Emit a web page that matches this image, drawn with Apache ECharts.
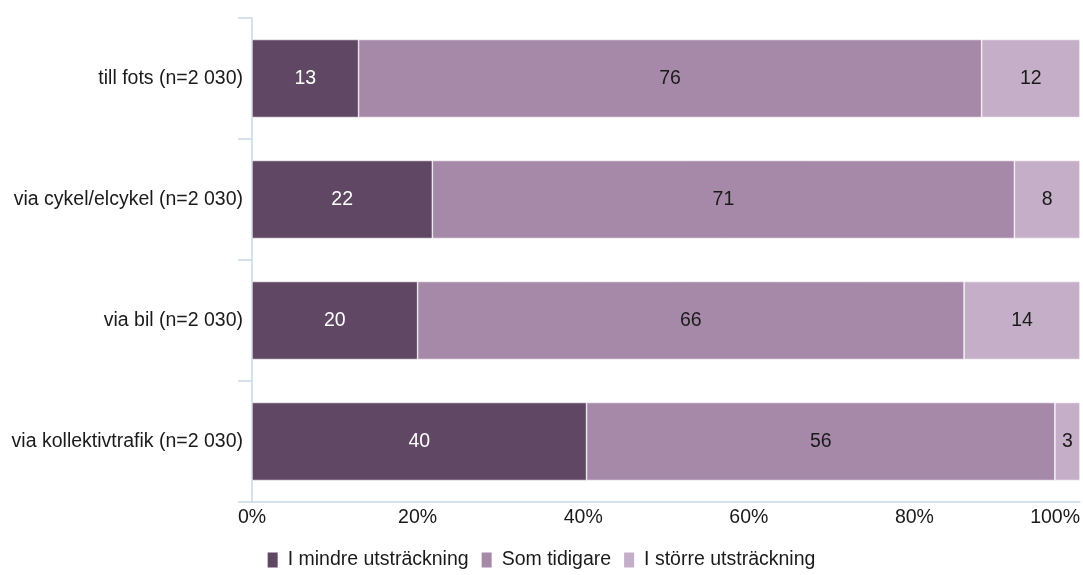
<!DOCTYPE html>
<html><head><meta charset="utf-8">
<script src="https://cdn.jsdelivr.net/npm/echarts@6/dist/echarts.min.js"></script>
<style>html,body{margin:0;padding:0;background:#fff}#c{width:1083px;height:575px}</style>
</head><body><div id="c"></div>
<script>
var categories = ["till fots (n=2 030)", "via cykel/elcykel (n=2 030)", "via bil (n=2 030)", "via kollektivtrafik (n=2 030)"];
var seriesNames = ["I mindre utsträckning", "Som tidigare", "I större utsträckning"];
var mindre = [13, 22, 20, 40];
var tidigare = [76, 71, 66, 56];
var storre = [12, 8, 14, 3];
var xTicks = [0, 20, 40, 60, 80, 100];
var colors = ["#604763", "#a688a9", "#c5aec8"];
var labelColors = ["#ffffff", "#1a1a1a", "#1a1a1a"];

var raw = [mindre, tidigare, storre];
var totals = categories.map(function(_, i){ return mindre[i] + tidigare[i] + storre[i]; });

var chart = echarts.init(document.getElementById('c'));
var font = "'Liberation Sans', Arial, sans-serif";
var fs = 19.5;
chart.setOption({
  animation: false,
  textStyle: {fontFamily: font},
  grid: {left: 252, right: 2, top: 18, bottom: 73},
  legend: {
    bottom: 0, left: 'center', itemWidth: 10, itemHeight: 15, itemGap: 13,
    icon: 'rect',
    itemStyle: {borderWidth: 0},
    textStyle: {fontSize: fs, color: '#1a1a1a', fontFamily: font, padding: [0, 0, 0, 5]},
    data: seriesNames
  },
  xAxis: {
    type: 'value', min: 0, max: 100, interval: 20,
    axisLine: {show: true, lineStyle: {color: '#c7d8e6', width: 1.5}},
    axisTick: {show: false},
    splitLine: {show: false},
    axisLabel: {fontSize: fs, color: '#1a1a1a', margin: 6,
      formatter: function(v){ return xTicks.indexOf(v) >= 0 ? v + '%' : ''; },
      showMaxLabel: true, alignMaxLabel: 'right'}
  },
  yAxis: {
    type: 'category', inverse: true, data: categories,
    axisLine: {show: true, lineStyle: {color: '#c7d8e6', width: 1.5}},
    axisTick: {show: true, length: 14, lineStyle: {color: '#c7d8e6', width: 1.5}},
    axisLabel: {fontSize: fs, color: '#1a1a1a', margin: 9}
  },
  series: raw.map(function(arr, k){
    return {
      name: seriesNames[k], type: 'bar', stack: 'tot', barWidth: 78,
      itemStyle: {color: colors[k], borderColor: '#ffffff', borderWidth: 0.6},
      label: {show: true, position: 'inside', fontSize: fs, color: labelColors[k], fontFamily: font,
        formatter: function(p){ return arr[p.dataIndex]; }},
      data: arr.map(function(v, i){ return v / totals[i] * 100; })
    };
  })
});
</script></body></html>
